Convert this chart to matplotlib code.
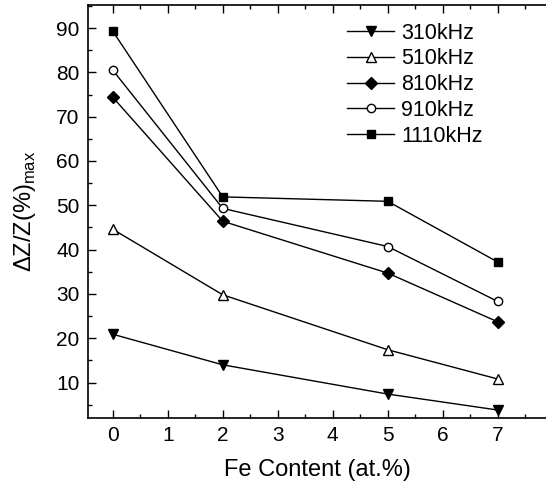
import matplotlib
matplotlib.use("Agg")
import matplotlib.pyplot as plt
from matplotlib.ticker import MultipleLocator

plt.rcParams['font.family'] = ['Liberation Sans', 'DejaVu Sans']
plt.rcParams['mathtext.fontset'] = 'custom'
plt.rcParams['mathtext.rm'] = 'Liberation Sans'

# Fe content (at.%)
fe = [0, 2, 5, 7]

# dZ/Z max (%) for each frequency
z_310 = [20.9, 14.0, 7.4, 3.8]
z_510 = [44.6, 29.8, 17.4, 10.8]
z_810 = [74.4, 46.4, 34.7, 23.7]
z_910 = [80.5, 49.3, 40.7, 28.3]
z_1110 = [89.3, 51.9, 50.9, 37.2]

labels = ['310kHz', '510kHz', '810kHz', '910kHz', '1110kHz']

fig = plt.figure(figsize=(5.46, 4.87), dpi=100)
ax = fig.add_axes([0.1612, 0.1417, 0.841, 0.848])

kw = dict(color='black', lw=1.0, mec='black')
ax.plot(fe, z_310, marker='v', ms=7, mfc='black', label=labels[0], **kw)
ax.plot(fe, z_510, marker='^', ms=7, mfc='white', label=labels[1], **kw)
ax.plot(fe, z_810, marker='D', ms=6.5, mfc='black', label=labels[2], **kw)
ax.plot(fe, z_910, marker='o', ms=6, mfc='white', label=labels[3], **kw)
ax.plot(fe, z_1110, marker='s', ms=5.5, mfc='black', label=labels[4], **kw)

ax.set_xlim(-0.45, 7.9)
ax.set_ylim(2, 95.2)
ax.xaxis.set_major_locator(MultipleLocator(1))
ax.xaxis.set_minor_locator(MultipleLocator(0.5))
ax.yaxis.set_major_locator(MultipleLocator(10))
ax.yaxis.set_minor_locator(MultipleLocator(5))
ax.set_yticks([10, 20, 30, 40, 50, 60, 70, 80, 90])
ax.tick_params(which='both', direction='in', top=True, right=False, labelsize=15, width=1)
ax.tick_params(which='major', length=6, pad=6)
ax.tick_params(which='minor', length=3)
ax.spines['right'].set_visible(False)
for s in ['left', 'bottom', 'top']:
    ax.spines[s].set_linewidth(1.2)

ax.set_xlabel('Fe Content (at.%)', fontsize=17, labelpad=10)
ax.set_ylabel('ΔZ/Z(%)$_{\\mathrm{max}}$', fontsize=17, labelpad=13)

ax.legend(loc='upper left', bbox_to_anchor=(0.522, 1.004), frameon=False,
          fontsize=15.5, handlelength=2.2, handletextpad=0.3, labelspacing=0.22)

fig.savefig('out.png', dpi=100)
